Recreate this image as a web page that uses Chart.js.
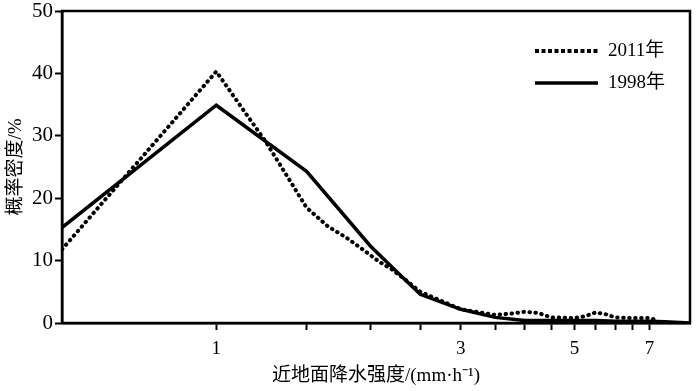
<!DOCTYPE html>
<html>
<head>
<meta charset="utf-8">
<script src="https://cdn.jsdelivr.net/npm/chart.js@4.4.1/dist/chart.umd.min.js"></script>
<style>
  html, body { margin: 0; padding: 0; background: #fff; }
  #wrap { width: 700px; height: 391px; }
</style>
</head>
<body>
<div id="wrap"><canvas id="chart" width="700" height="391"></canvas></div>
<script>
// Datos (x en mm·h-1, y en %)
const x2011 = [0.5, 1, 1.25, 1.5, 1.65, 1.8, 1.93, 2.08, 2.2, 2.35, 2.5, 3, 3.5, 3.75, 4, 4.25, 4.5, 5, 5.25, 5.5, 5.75, 6, 6.5, 7, 7.3];
const y2011 = [11.8, 40.3, 29.0, 18.5, 15.5, 13.6, 11.8, 9.8, 8.6, 6.8, 5.0, 2.2, 1.3, 1.5, 1.8, 1.6, 0.9, 0.8, 1.1, 1.7, 1.4, 0.9, 0.8, 0.8, 0.4];
const x1998 = [0.5, 1, 1.5, 2, 2.25, 2.5, 3, 3.5, 4, 4.5, 5, 5.5, 6, 6.5, 7, 7.5, 8.4];
const y1998 = [15.3, 34.9, 24.3, 12.3, 8.2, 4.6, 2.2, 0.9, 0.4, 0.4, 0.4, 0.4, 0.3, 0.3, 0.3, 0.2, 0.0];
const xTicks = [1, 1.5, 2, 2.5, 3, 3.5, 4, 4.5, 5, 5.5, 6, 6.5, 7];
const xLabels = [1, 3, 5, 7];
const seriesNames = ['2011年', '1998年'];

const serif = "'Liberation Serif', 'Noto Sans CJK SC', serif";

// Marco completo alrededor del área del gráfico
const framePlugin = {
    id: 'frame',
    afterDraw(chart) {
        const a = chart.chartArea;
        const ctx = chart.ctx;
        ctx.save();
        ctx.strokeStyle = '#000';
        ctx.lineWidth = 2.5;
        ctx.strokeRect(a.left, a.top, a.right - a.left, a.bottom - a.top);
        ctx.restore();
    }
};

// Leyenda dibujada dentro del área, arriba a la derecha
const innerLegend = {
    id: 'innerLegend',
    afterDraw(chart) {
        const ctx = chart.ctx;
        ctx.save();
        ctx.font = '19px ' + serif;
        ctx.textBaseline = 'middle';
        ctx.fillStyle = '#000';
        const rows = [51, 83];
        chart.data.datasets.forEach((ds, i) => {
            const y = rows[i];
            ctx.beginPath();
            ctx.strokeStyle = '#000';
            ctx.lineWidth = ds.borderWidth;
            ctx.setLineDash(i === 0 ? [4, 2.5] : []);
            ctx.moveTo(535, y);
            ctx.lineTo(598, y);
            ctx.stroke();
            ctx.setLineDash([]);
            ctx.fillText(ds.label, 608, y);
        });
        ctx.restore();
    }
};

const ctx = document.getElementById('chart').getContext('2d');
new Chart(ctx, {
    type: 'line',
    data: {
        datasets: [
            {
                label: seriesNames[0],
                data: x2011.map((x, i) => ({ x: x, y: y2011[i] })),
                borderColor: '#000',
                borderWidth: 4,
                borderDash: [0.5, 5.5],
                borderCapStyle: 'round',
                borderJoinStyle: 'round',
                pointRadius: 0,
                tension: 0,
                fill: false
            },
            {
                label: seriesNames[1],
                data: x1998.map((x, i) => ({ x: x, y: y1998[i] })),
                borderColor: '#000',
                borderWidth: 3.5,
                borderJoinStyle: 'miter',
                pointRadius: 0,
                tension: 0,
                fill: false
            }
        ]
    },
    options: {
        responsive: false,
        animation: false,
        layout: { padding: { top: 11, right: 10, bottom: 4, left: 0 } },
        plugins: {
            legend: { display: false },
            tooltip: { enabled: false }
        },
        scales: {
            x: {
                type: 'logarithmic',
                min: 0.5,
                max: 8.4,
                afterBuildTicks: function(scale) {
                    scale.ticks = xTicks.map(v => ({ value: v }));
                },
                afterFit: function(scale) {
                    scale.height = 64;
                },
                grid: {
                    display: true,
                    drawOnChartArea: false,
                    drawTicks: true,
                    tickLength: 7,
                    tickWidth: 2,
                    tickColor: '#000'
                },
                border: { display: true, color: '#000', width: 2.5 },
                ticks: {
                    autoSkip: false,
                    maxRotation: 0,
                    color: '#000',
                    padding: 8,
                    font: { family: serif, size: 19 },
                    callback: function(value) {
                        return xLabels.includes(value) ? String(value) : '';
                    }
                },
                title: {
                    display: true,
                    text: '近地面降水强度/(mm·h⁻¹)',
                    color: '#000',
                    font: { family: serif, size: 19 },
                    padding: { top: 2, bottom: 0 }
                }
            },
            y: {
                min: 0,
                max: 50,
                afterFit: function(scale) {
                    scale.width = 62;
                    scale.paddingTop = 0;
                    scale.paddingBottom = 0;
                },
                grid: {
                    display: true,
                    drawOnChartArea: false,
                    drawTicks: true,
                    tickLength: 7,
                    tickWidth: 2,
                    tickColor: '#000'
                },
                border: { display: true, color: '#000', width: 2.5 },
                ticks: {
                    stepSize: 10,
                    color: '#000',
                    padding: 2,
                    font: { family: serif, size: 21 }
                },
                title: {
                    display: true,
                    text: '概率密度/%',
                    color: '#000',
                    font: { family: serif, size: 19 },
                    padding: { top: 5, bottom: 0 }
                }
            }
        }
    },
    plugins: [framePlugin, innerLegend]
});
</script>
</body>
</html>
